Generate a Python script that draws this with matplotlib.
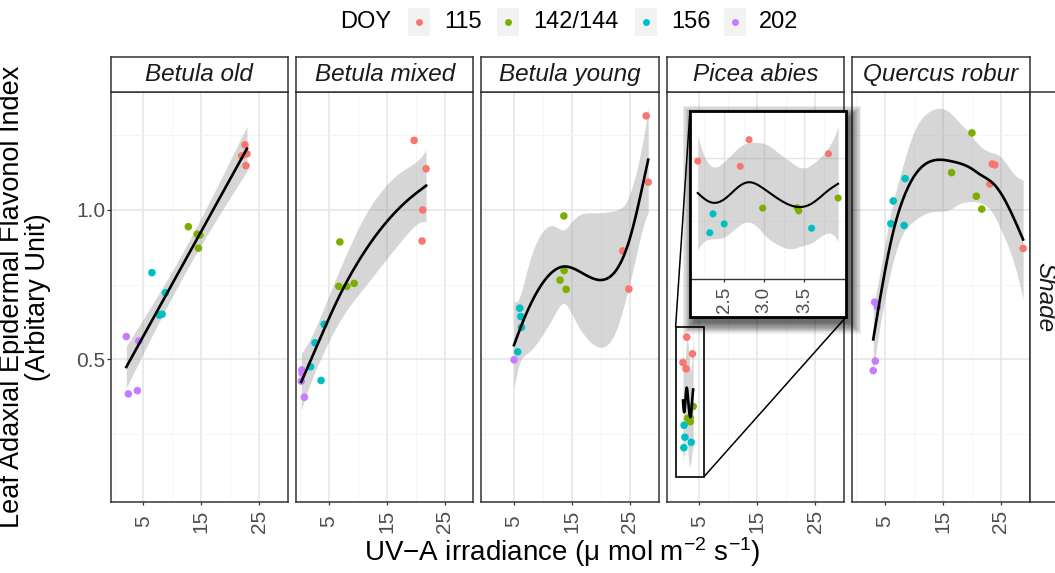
import numpy as np
import matplotlib
matplotlib.use('Agg')
import matplotlib.pyplot as plt
from matplotlib.patches import Rectangle, ConnectionPatch
from matplotlib.lines import Line2D

plt.rcParams['font.family'] = ['Liberation Sans', 'DejaVu Sans']
plt.rcParams['mathtext.fontset'] = 'custom'
plt.rcParams['mathtext.rm'] = 'Liberation Sans'
plt.rcParams['mathtext.it'] = 'Liberation Sans:italic'

# ---- data ----
species = ['Betula old', 'Betula mixed', 'Betula young', 'Picea abies', 'Quercus robur']
doy_labels = ['115', '142/144', '156', '202']
doy_colors = ['#F8766D', '#7CAE00', '#00BFC4', '#C77CFF']

betula_old_uva = [22.56, 21.98, 22.90, 22.73, 12.79, 14.30, 14.77, 14.53, 6.51, 8.84, 7.79, 8.26, 2.09, 4.24, 2.44, 4.01]
betula_old_flav = [1.218, 1.181, 1.188, 1.148, 0.944, 0.919, 0.916, 0.872, 0.790, 0.723, 0.648, 0.651, 0.576, 0.561, 0.384, 0.395]
betula_old_doy = [0, 0, 0, 0, 1, 1, 1, 1, 2, 2, 2, 2, 3, 3, 3, 3]

betula_mixed_uva = [19.76, 21.82, 21.24, 21.12, 6.94, 6.76, 8.12, 9.41, 4.24, 2.65, 1.88, 3.71, 0.40, 0.43, 0.29, 0.82]
betula_mixed_flav = [1.233, 1.138, 1.000, 0.896, 0.893, 0.744, 0.744, 0.754, 0.617, 0.555, 0.475, 0.429, 0.464, 0.453, 0.427, 0.373]
betula_mixed_doy = [0, 0, 0, 0, 1, 1, 1, 1, 2, 2, 2, 2, 3, 3, 3, 3]

betula_young_uva = [27.81, 28.16, 23.77, 24.82, 13.60, 13.65, 12.95, 14.00, 5.99, 6.17, 6.29, 5.64, 5.00]
betula_young_flav = [1.315, 1.093, 0.863, 0.735, 0.980, 0.797, 0.765, 0.734, 0.671, 0.643, 0.607, 0.525, 0.498]
betula_young_doy = [0, 0, 0, 0, 1, 1, 1, 1, 2, 2, 2, 2, 3]

picea_uva = [2.17, 2.81, 2.70, 3.80, 2.98, 3.41, 3.43, 3.92, 2.36, 2.32, 2.50, 3.59]
picea_flav = [0.489, 0.574, 0.468, 0.518, 0.302, 0.304, 0.291, 0.342, 0.279, 0.204, 0.239, 0.222]
picea_doy = [0, 0, 0, 0, 1, 1, 1, 1, 2, 2, 2, 2]

quercus_uva = [23.54, 24.00, 23.13, 28.86, 20.03, 16.52, 20.79, 21.73, 8.51, 6.46, 6.05, 8.33, 3.25, 3.71, 3.36, 3.01]
quercus_flav = [1.154, 1.151, 1.087, 0.871, 1.258, 1.125, 1.046, 1.003, 1.105, 1.030, 0.954, 0.948, 0.691, 0.676, 0.494, 0.462]
quercus_doy = [0, 0, 0, 0, 1, 1, 1, 1, 2, 2, 2, 2, 3, 3, 3, 3]

all_uva = [betula_old_uva, betula_mixed_uva, betula_young_uva, picea_uva, quercus_uva]
all_flav = [betula_old_flav, betula_mixed_flav, betula_young_flav, picea_flav, quercus_flav]
all_doy = [betula_old_doy, betula_mixed_doy, betula_young_doy, picea_doy, quercus_doy]
# smoother flexibility: None = pick by REML, number = fixed effective df
smooth_edf = [None, None, None, 4.3, None]

x_ticks = [5, 15, 25]
y_ticks = [0.5, 1.0]
inset_ticks = [2.5, 3.0, 3.5]


def t_quantile(df, z=1.959964):
    # Cornish-Fisher expansion of the t quantile (97.5%)
    g1 = (z**3 + z) / 4
    g2 = (5 * z**5 + 16 * z**3 + 3 * z) / 96
    g3 = (3 * z**7 + 19 * z**5 + 17 * z**3 - 15 * z) / 384
    g4 = (79 * z**9 + 776 * z**7 + 1482 * z**5 - 1920 * z**3 - 945 * z) / 92160
    return z + g1 / df + g2 / df**2 + g3 / df**3 + g4 / df**4


def spline_smooth(x, y, grid, edf=None):
    # cubic smoothing spline, smoothness by REML (GML) or fixed edf, Bayesian 95% band
    order = np.argsort(x)
    x = np.asarray(x, float)[order]
    y = np.asarray(y, float)[order]
    n = len(x)
    h = np.diff(x)
    Q = np.zeros((n, n - 2))
    R = np.zeros((n - 2, n - 2))
    for j in range(1, n - 1):
        c = j - 1
        Q[j - 1, c] = 1 / h[j - 1]
        Q[j, c] = -1 / h[j - 1] - 1 / h[j]
        Q[j + 1, c] = 1 / h[j]
        R[c, c] = (h[j - 1] + h[j]) / 3
        if c + 1 < n - 2:
            R[c, c + 1] = R[c + 1, c] = h[j] / 6
    RinvQt = np.linalg.solve(R, Q.T)
    K = Q @ RinvQt
    K = (K + K.T) / 2
    mu, U = np.linalg.eigh(K)
    mu = np.clip(mu, 0, None)
    pos = mu > mu.max() * 1e-10
    z = U.T @ y
    best_lam, best_crit = None, np.inf
    for lam in np.logspace(-6, 8, 1400):
        if edf is None:
            r = lam * mu / (1 + lam * mu)
            crit = np.log(np.sum(r * z**2)) - np.sum(np.log(r[pos])) / pos.sum()
        else:
            crit = abs(np.sum(1 / (1 + lam * mu)) - edf)
        if crit < best_crit:
            best_lam, best_crit = lam, crit
    S = U @ np.diag(1 / (1 + best_lam * mu)) @ U.T
    f = S @ y
    df_model = np.trace(S)
    sigma2 = np.sum((y - f)**2) / (n - df_model)
    # natural cubic spline through fitted values
    idx = np.clip(np.searchsorted(x, grid) - 1, 0, n - 2)
    P = np.zeros((len(grid), n))
    Z = np.zeros((len(grid), n))
    for g, (xv, i) in enumerate(zip(grid, idx)):
        hh = x[i + 1] - x[i]
        a = xv - x[i]
        b = x[i + 1] - xv
        P[g, i] += b / hh
        P[g, i + 1] += a / hh
        Z[g, i] += -a * b * (1 + b / hh) / 6
        Z[g, i + 1] += -a * b * (1 + a / hh) / 6
    Gam = np.zeros((n, n))
    Gam[1:-1] = RinvQt
    A = P + Z @ Gam
    fit = A @ f
    se = np.sqrt(np.clip(np.sum((A @ S) * A, axis=1) * sigma2, 0, None))
    t = t_quantile(n - df_model)
    return fit, fit - t * se, fit + t * se


# ---- layout (pixels) ----
W, H = 1055, 573
PANEL_LEFT = [110.5, 295.9, 481.3, 666.7, 852.1]
PANEL_W = 177.6
PANEL_TOP, PANEL_BOTTOM = 91.7, 502.3
STRIP_TOP = 57.3
BORDER = '#333333'
TICK_TXT = '#4D4D4D'


def px_box(left, top, width, height):
    return [left / W, 1 - (top + height) / H, width / W, height / H]


def fig_pt(px, py):
    return (px / W, 1 - py / H)


fig = plt.figure(figsize=(W / 100, H / 100), dpi=100)

axes = []
for i, name in enumerate(species):
    ax = fig.add_axes(px_box(PANEL_LEFT[i], PANEL_TOP, PANEL_W, PANEL_BOTTOM - PANEL_TOP))
    ax.set_xlim(-0.64, 30.0)
    ax.set_ylim(0.021, 1.396)
    ax.set_xticks(x_ticks)
    ax.set_xticklabels([str(t) for t in x_ticks])
    ax.set_xticks([0, 10, 20, 30], minor=True)
    ax.set_yticks(y_ticks)
    ax.set_yticks([0.25, 0.75, 1.25], minor=True)
    ax.grid(which='major', color='#E4E4E4', lw=1.1)
    ax.grid(which='minor', color='#F4F4F4', lw=0.6)
    ax.set_axisbelow(True)
    ax.tick_params(which='minor', length=0)
    ax.tick_params(axis='x', which='major', length=2.4, width=0.9, color=BORDER, pad=11.5,
                   labelrotation=90, labelsize=15, labelcolor=TICK_TXT)
    for lab in ax.get_xticklabels():
        lab.set_verticalalignment('center')
    if i == 0:
        ax.tick_params(axis='y', which='major', length=2.6, width=0.9, color=BORDER, pad=1,
                       labelsize=15, labelcolor=TICK_TXT)
        ax.set_yticklabels(['0.5', '1.0'])
    else:
        ax.tick_params(axis='y', which='major', length=0, labelleft=False)
    for sp in ax.spines.values():
        sp.set_color(BORDER)
        sp.set_linewidth(1.1)

    xs = np.asarray(all_uva[i])
    ys = np.asarray(all_flav[i])
    cs = [doy_colors[k] for k in all_doy[i]]
    grid = np.linspace(xs.min(), xs.max(), 80)
    fit, lo, hi = spline_smooth(xs, ys, grid, smooth_edf[i])
    ax.fill_between(grid, lo, hi, color='#999999', alpha=0.4, lw=0, zorder=1)
    ax.scatter(xs, ys, c=cs, s=30, linewidths=0, zorder=2)
    ax.plot(grid, fit, color='black', lw=1.9, zorder=3)

    # strip on top
    sax = fig.add_axes(px_box(PANEL_LEFT[i], STRIP_TOP, PANEL_W, PANEL_TOP - STRIP_TOP))
    sax.set_xticks([])
    sax.set_yticks([])
    for sp in sax.spines.values():
        sp.set_color(BORDER)
        sp.set_linewidth(1.1)
    sax.text(0.5, 0.5, name, transform=sax.transAxes, ha='center', va='center',
             fontsize=17.5, style='italic', color='#1A1A1A')
    axes.append(ax)

# right strip "Shade"
rax = fig.add_axes(px_box(PANEL_LEFT[4] + PANEL_W, PANEL_TOP, 40, PANEL_BOTTOM - PANEL_TOP))
rax.set_xticks([])
rax.set_yticks([])
for sp in rax.spines.values():
    sp.set_color(BORDER)
    sp.set_linewidth(1.1)
fig.text(*fig_pt(1045, 297), 'Shade', rotation=270, ha='center', va='center',
         fontsize=17.5, style='italic', color='#1A1A1A')

# ---- zoom box on Picea panel + magnified inset ----
pax = axes[3]
zoom_x0, zoom_x1, zoom_y0, zoom_y1 = 0.9, 5.8, 0.107, 0.609
pax.add_patch(Rectangle((zoom_x0, zoom_y0), zoom_x1 - zoom_x0, zoom_y1 - zoom_y0,
                        fill=False, ec='black', lw=1.2, zorder=4))

box_l, box_t, box_r, box_b = 690, 111, 846.3, 316.7
# soft drop shadow
for k in range(10):
    grow = k * 1.2
    fig.add_artist(Rectangle(fig_pt(box_l + 4 - grow, box_b + 6 + grow),
                             (box_r - box_l + 2 * grow) / W, (box_b - box_t + 2 * grow) / H,
                             transform=fig.transFigure, fc='black', ec='none',
                             alpha=0.08, zorder=3))
fig.add_artist(Rectangle(fig_pt(box_l, box_b), (box_r - box_l) / W, (box_b - box_t) / H,
                         transform=fig.transFigure, fc='white', ec='none', zorder=4))

iax = fig.add_axes(px_box(691.3, 112.3, 845 - 691.3, 279 - 112.3), zorder=5)
iax.set_xlim(2.09, 4.006)
iax.set_ylim(0.020, 0.683)
iax.patch.set_alpha(0)
iax.set_xticks(inset_ticks)
iax.set_xticklabels(['2.5', '3.0', '3.5'])
iax.set_xticks([2.25, 2.75, 3.25, 3.75], minor=True)
iax.set_yticks([0.5])
iax.set_yticks([0.25], minor=True)
iax.grid(which='major', color='#E4E4E4', lw=1.0)
iax.grid(which='minor', color='#F4F4F4', lw=0.6)
iax.set_axisbelow(True)
iax.tick_params(which='minor', length=0)
iax.tick_params(axis='y', length=0, labelleft=False)
iax.tick_params(axis='x', which='major', length=2.2, width=0.9, color=BORDER, pad=13,
                labelrotation=90, labelsize=13.5, labelcolor=TICK_TXT)
for lab in iax.get_xticklabels():
    lab.set_verticalalignment('center')
for side in ['top', 'left', 'right']:
    iax.spines[side].set_visible(False)
iax.spines['bottom'].set_color(BORDER)
iax.spines['bottom'].set_linewidth(1.0)

pxs = np.asarray(picea_uva)
pys = np.asarray(picea_flav)
pgrid = np.linspace(pxs.min(), pxs.max(), 80)
pfit, plo, phi = spline_smooth(pxs, pys, pgrid, smooth_edf[3])
iax.fill_between(pgrid, plo, phi, color='#999999', alpha=0.4, lw=0, zorder=1)
iax.scatter(pxs, pys, c=[doy_colors[k] for k in picea_doy], s=26, linewidths=0, zorder=2)
iax.plot(pgrid, pfit, color='black', lw=1.5, zorder=3)

fig.add_artist(Rectangle(fig_pt(box_l, box_b), (box_r - box_l) / W, (box_b - box_t) / H,
                         transform=fig.transFigure, fill=False, ec='black', lw=2.0, zorder=6))

for xa, ya, pb in [(zoom_x0, zoom_y1, fig_pt(box_l, box_t)),
                   (zoom_x1, zoom_y0, fig_pt(box_r, box_b))]:
    fig.add_artist(ConnectionPatch(xyA=(xa, ya), coordsA=pax.transData,
                                   xyB=pb, coordsB=fig.transFigure,
                                   color='black', lw=1.1, zorder=2))

# ---- axis titles ----
fig.text(*fig_pt(562, 552), 'UV\u2212A irradiance (\u03bc mol m$^{-2}$ s$^{-1}$)',
         ha='center', va='center', fontsize=20, color='black')
fig.text(*fig_pt(25, 297), 'Leaf Adaxial Epidermal Flavonol Index\n(Arbitary Unit)',
         rotation=90, ha='center', va='center', multialignment='center',
         fontsize=19.5, linespacing=1.02, color='black')

# ---- legend on top ----
fig.text(*fig_pt(340, 22), 'DOY', ha='left', va='center', fontsize=17)
key_cx = [418.6, 508, 646, 735]
label_x = [444, 533.6, 671, 759]
for k, lab in enumerate(doy_labels):
    fig.add_artist(Rectangle(fig_pt(key_cx[k] - 11, 36), 22 / W, 28 / H,
                             transform=fig.transFigure, fc='#F2F2F2', ec='none'))
    fig.add_artist(Line2D([key_cx[k] / W], [1 - 22 / H], marker='o', ms=5, mew=0,
                          color=doy_colors[k], ls='none', transform=fig.transFigure))
    fig.text(*fig_pt(label_x[k], 22), lab, ha='left', va='center', fontsize=17)

fig.savefig('out.png', dpi=100)
